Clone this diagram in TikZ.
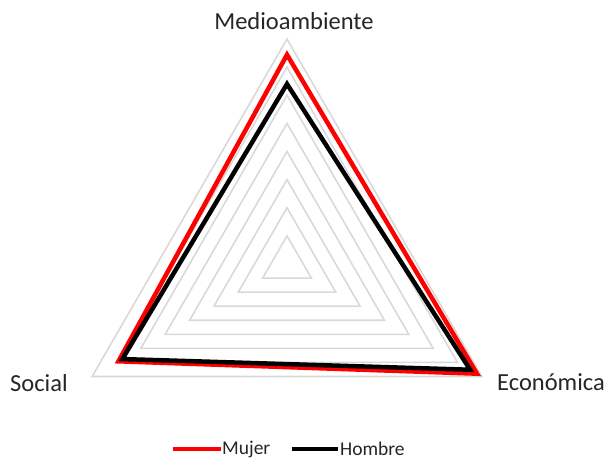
\documentclass[tikz,border=0pt]{standalone}
\usepackage{fontspec}
\setmainfont{Carlito}
\definecolor{gridgray}{RGB}{217,217,217}
\definecolor{labelgray}{RGB}{38,38,38}
\begin{document}
\begin{tikzpicture}[x=1pt,y=1pt,
    ring/.style={draw=gridgray,line width=1.6pt,line join=miter},
    mujer/.style={draw=red,line width=4.5pt,line join=miter},
    hombre/.style={draw=black,line width=4.5pt,line join=miter},
    axislabel/.style={text=labelgray,font=\fontsize{24.5}{28}\selectfont,inner sep=0pt},
    legendlabel/.style={text=labelgray,font=\fontsize{19.5}{23}\selectfont,inner sep=0pt}]

      \useasboundingbox (-287,-196) rectangle (321,264);

      % rejilla
      \foreach \k in {1,...,8} {
        \draw[ring] (90:\k*28.125) -- (210:\k*28.125) -- (330:\k*28.125) -- cycle;
      }

      \begin{scope}
        \coordinate (m1) at (90:0.93*225);
        \coordinate (m2) at (210:0.865*225);
        \coordinate (m3) at (330:0.975*225);
        \coordinate (h1) at (90:0.80*225);
        \coordinate (h2) at (210:0.845*225);
        \coordinate (h3) at (330:0.94*225);
      \end{scope}

      \draw[mujer]  (m1) -- (m2) -- (m3) -- cycle;
      \draw[hombre] (h1) -- (h2) -- (h3) -- cycle;

      \begin{scope}[every node/.style={axislabel}]
        \node[anchor=base]      (medio) at (7,234)     {Medioambiente};
        \node[anchor=base west] (soc)   at (-277,-128) {Social};
        \node[anchor=base west] (eco)   at (210,-127)  {Económica};
      \end{scope}

      % leyenda
      \coordinate (lm1) at (-114,-185);
      \coordinate (lm2) at (-66,-185);
      \coordinate (lh1) at (5,-185);
      \coordinate (lh2) at (51,-185);
      \draw[draw=red,line width=4pt]   (lm1) -- (lm2);
      \draw[draw=black,line width=4pt] (lh1) -- (lh2);
      \begin{scope}[every node/.style={legendlabel}]
        \node[anchor=west] (lmujer)  at (-65,-185) {Mujer};
        \node[anchor=west] (lhombre) at (53,-185)  {Hombre};
      \end{scope}

    \end{tikzpicture}
\end{document}
